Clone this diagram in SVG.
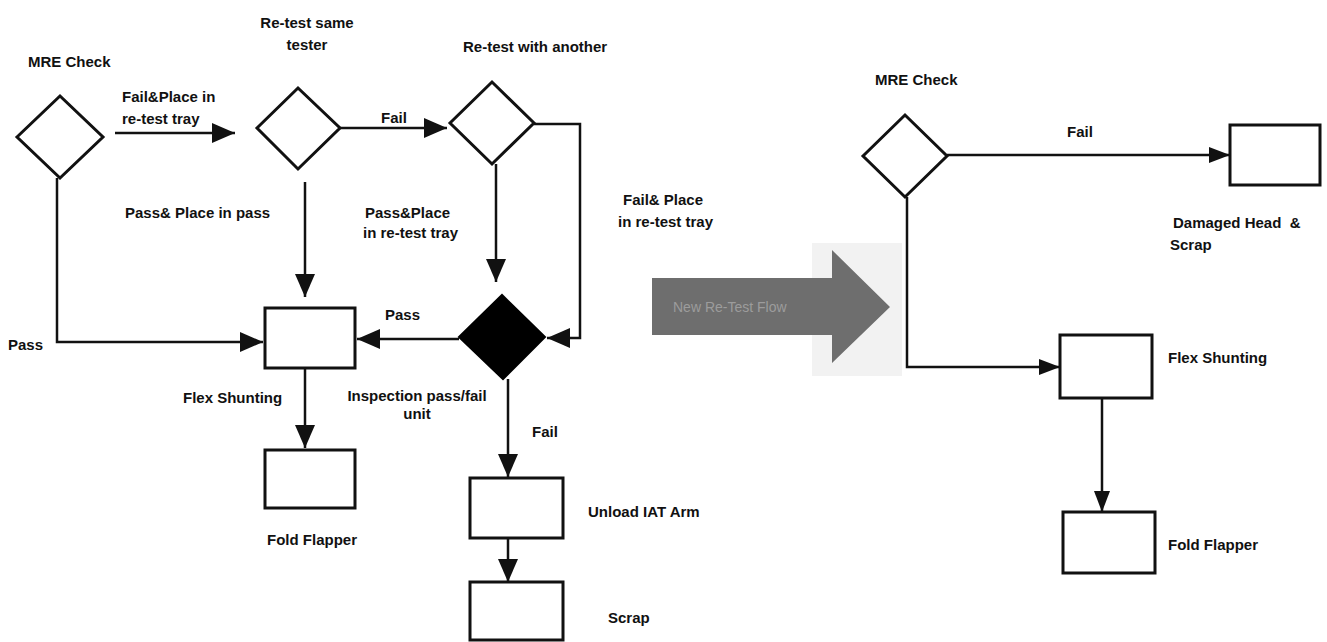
<svg xmlns="http://www.w3.org/2000/svg" width="1327" height="642" viewBox="0 0 1327 642">
<defs>
<style>
.t{font-family:"Liberation Sans",Arial,sans-serif;font-weight:bold;font-size:15px;fill:#111;}
.s{fill:#fff;stroke:#111;stroke-width:3;}
.c{fill:none;stroke:#111;stroke-width:2.5;}
</style>
<marker id="ah" markerUnits="userSpaceOnUse" markerWidth="24" markerHeight="20" refX="23" refY="10" orient="auto">
<path d="M0,0 L23,10 L0,20 z" fill="#111"/>
</marker>
<marker id="ahs" markerUnits="userSpaceOnUse" markerWidth="22" markerHeight="18" refX="21" refY="8" orient="auto">
<path d="M0,0 L21,8 L0,16 z" fill="#111"/>
</marker>
</defs>
<rect width="1327" height="642" fill="#fff"/>

<g id="connectors">
<path class="c" d="M115,133 H235" marker-end="url(#ah)"/>
<path class="c" d="M340,128 H447" marker-end="url(#ah)"/>
<path class="c" d="M57,178 V342 H263" marker-end="url(#ah)"/>
<path class="c" d="M305,182 V297" marker-end="url(#ah)"/>
<path class="c" d="M534,124 H580 V338 H547" marker-end="url(#ah)"/>
<path class="c" d="M496,164 V282" marker-end="url(#ah)"/>
<path class="c" d="M459,339 H357" marker-end="url(#ah)"/>
<path class="c" d="M305,368 V448" marker-end="url(#ah)"/>
<path class="c" d="M508,379 V477" marker-end="url(#ah)"/>
<path class="c" d="M508,538 V582" marker-end="url(#ah)"/>
<path class="c" d="M947,155 H1230" marker-end="url(#ahs)"/>
<path class="c" d="M907,197 V367 H1060" marker-end="url(#ahs)"/>
<path class="c" d="M1102,398 V512" marker-end="url(#ahs)"/>
</g>

<g id="mre-check-left">
<polygon class="s" points="17,137 60,96 103,137 60,178"/>
<text class="t" x="28" y="67">MRE Check</text>
</g>
<g id="retest-same">
<polygon class="s" points="257,128 298,88 340,128 298,169"/>
<text class="t" x="307" y="28" text-anchor="middle">Re-test same</text>
<text class="t" x="307" y="50" text-anchor="middle">tester</text>
</g>
<g id="retest-another">
<polygon class="s" points="450,123 492,82 534,123 492,164"/>
<text class="t" x="463" y="52">Re-test  with another</text>
</g>
<g id="inspection">
<polygon points="459,337 502,295 545,337 503,379" fill="#000" stroke="#000" stroke-width="2"/>
<text class="t" x="417" y="401" text-anchor="middle">Inspection pass/fail</text>
<text class="t" x="417" y="419" text-anchor="middle">unit</text>
</g>
<g id="flex-left">
<rect class="s" x="265" y="308" width="90" height="60"/>
<text class="t" x="183" y="403">Flex Shunting</text>
</g>
<g id="fold-left">
<rect class="s" x="265" y="450" width="90" height="58"/>
<text class="t" x="267" y="545">Fold Flapper</text>
</g>
<g id="unload">
<rect class="s" x="470" y="478" width="93" height="60"/>
<text class="t" x="588" y="517">Unload IAT Arm</text>
</g>
<g id="scrap">
<rect class="s" x="470" y="582" width="93" height="58"/>
<text class="t" x="608" y="623">Scrap</text>
</g>

<g id="labels">
<text class="t" x="122" y="102">Fail&amp;Place in</text>
<text class="t" x="122" y="124">re-test tray</text>
<text class="t" x="381" y="123">Fail</text>
<text class="t" x="125" y="218">Pass&amp; Place in pass</text>
<text class="t" x="365" y="218">Pass&amp;Place</text>
<text class="t" x="363" y="238">in re-test tray</text>
<text class="t" x="623" y="205">Fail&amp; Place</text>
<text class="t" x="618" y="227">in re-test tray</text>
<text class="t" x="8" y="350">Pass</text>
<text class="t" x="385" y="320">Pass</text>
<text class="t" x="532" y="437">Fail</text>
<text class="t" x="1067" y="137">Fail</text>
</g>

<g id="new-flow-arrow">
<rect x="812" y="243" width="90" height="133" fill="#f2f2f2"/>
<polygon points="652,278 832,278 832,250 890,307 832,363 832,335 652,335" fill="#6e6e6e"/>
<text x="673" y="312" font-family="'Liberation Sans',Arial,sans-serif" font-size="14" fill="#9c9c9c">New Re-Test Flow</text>
</g>

<g id="mre-check-right">
<polygon class="s" points="863,156 905,115 947,156 905,197"/>
<text class="t" x="875" y="85">MRE Check</text>
</g>
<g id="damaged">
<rect class="s" x="1230" y="125" width="90" height="60"/>
<text class="t" x="1173" y="228" xml:space="preserve">Damaged Head  &amp;</text>
<text class="t" x="1170" y="250">Scrap</text>
</g>
<g id="flex-right">
<rect class="s" x="1060" y="335" width="92" height="63"/>
<text class="t" x="1168" y="363">Flex Shunting</text>
</g>
<g id="fold-right">
<rect class="s" x="1063" y="512" width="92" height="61"/>
<text class="t" x="1168" y="550">Fold Flapper</text>
</g>
</svg>
